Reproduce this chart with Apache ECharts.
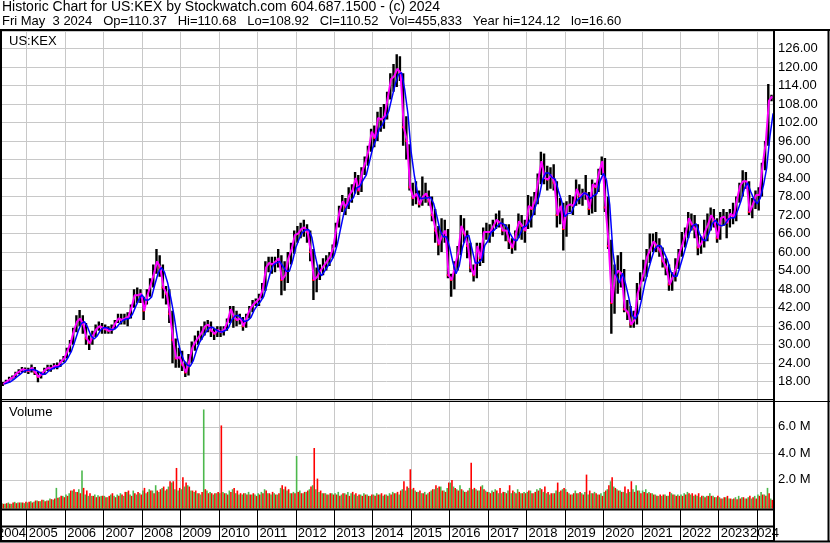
<!DOCTYPE html>
<html><head><meta charset="utf-8">
<script src="https://cdn.jsdelivr.net/npm/echarts/dist/echarts.min.js"></script>
<style>html,body{margin:0;padding:0;background:#fff}#c{width:830px;height:543px}</style>
</head><body><div id="c"></div><script>
// ---- data (monthly, first month = May 2004) ----
const startYear = 2004, startMonth = 5;
const close = [
 17.2,18.0,18.8,19.4,20.6,21.3,22.0,21.8,
 21.5,22.5,21.0,19.5,20.5,21.8,22.5,22.3,23.2,23.0,24.5,25.5,
 28.0,30.5,34.5,37.5,38.5,36.5,32.0,30.5,33.0,35.0,36.0,35.5,
 35.0,34.5,35.0,37.0,38.5,38.0,38.5,39.0,42.0,46.0,46.0,46.5,
 41.0,46.0,49.5,53.0,57.0,55.0,48.5,46.5,40.0,31.5,25.5,26.0,
 23.5,21.0,24.5,29.0,31.0,32.5,34.0,36.0,36.5,34.5,33.5,34.8,
 34.0,35.0,37.5,41.5,39.0,38.0,38.5,36.0,39.0,41.5,43.0,44.0,
 45.0,48.0,55.0,56.5,56.0,57.0,58.0,51.0,52.5,58.0,61.0,65.5,
 66.0,67.5,68.0,66.5,60.0,51.0,52.0,54.0,55.5,57.0,58.5,61.5,
 68.0,73.5,76.5,74.5,78.5,80.0,84.0,80.0,86.0,89.0,93.0,99.0,
 97.0,103.5,103.0,104.0,110.0,116.0,117.0,119.5,118.0,100.5,96.0,81.0,
 77.5,79.0,75.5,78.0,79.0,76.5,72.0,67.0,62.5,65.5,67.0,52.5,
 51.0,55.5,60.0,68.5,66.0,62.0,55.0,52.5,62.0,58.0,66.5,66.5,
 66.5,68.5,70.5,69.5,67.0,67.0,63.5,61.5,66.0,70.0,68.5,67.0,
 75.0,74.0,77.0,83.5,89.5,84.0,83.5,85.0,82.5,72.0,75.0,67.5,
 75.0,75.5,75.0,80.5,78.0,79.0,79.0,74.0,82.0,81.0,86.0,89.5,
 74.5,62.0,43.5,52.5,54.0,53.0,41.5,40.5,36.5,38.0,46.5,50.0,
 53.5,58.5,61.0,63.5,62.0,60.5,57.0,55.0,49.5,52.0,55.0,59.5,
 62.5,66.0,71.0,69.0,67.5,61.5,63.0,66.5,69.0,72.0,70.0,64.5,
 71.0,71.5,69.5,72.5,71.5,77.0,81.5,83.0,83.0,73.0,75.5,78.5,
 78.5,88.0,95.5,109.0,110.5
];
const high = [
 17.9,18.6,19.6,20.0,21.2,22.0,22.8,22.6,
 22.5,23.6,22.8,21.5,21.2,22.5,23.5,23.5,24.0,24.2,25.2,26.3,
 29.0,31.5,35.5,39.5,41.2,39.5,37.0,33.0,34.5,36.5,37.5,37.0,
 36.5,36.0,36.5,38.0,40.0,40.0,40.0,40.5,43.0,48.0,48.5,48.0,
 45.5,48.0,51.5,56.0,61.0,59.0,56.0,49.0,48.0,41.0,32.0,29.0,
 28.0,24.5,27.0,31.0,33.0,34.5,36.0,37.5,38.0,37.5,35.5,36.0,
 36.0,36.0,38.5,42.5,42.5,41.0,40.0,39.0,40.0,42.5,44.5,45.0,
 46.5,50.0,57.0,58.5,58.5,58.5,61.0,59.0,57.0,60.0,63.0,67.0,
 68.5,69.5,70.5,69.0,67.0,61.0,55.0,56.0,58.0,59.0,60.0,62.5,
 69.5,75.0,78.5,77.5,81.0,82.0,86.0,85.0,87.5,91.0,94.5,100.0,
 101.0,105.5,107.0,108.0,112.0,118.0,121.0,124.1,123.5,118.0,104.0,95.0,
 82.5,83.0,80.0,84.5,82.5,80.0,78.0,74.0,68.5,71.0,70.5,67.5,
 53.0,57.0,62.0,72.0,71.0,67.0,63.0,56.0,63.0,63.0,68.0,69.5,
 69.0,70.5,72.5,73.5,71.0,69.0,69.0,64.5,67.0,72.5,72.0,70.5,
 78.5,78.0,79.5,85.5,92.5,92.0,88.0,87.5,88.5,83.0,77.5,76.0,
 76.5,78.5,78.0,83.5,82.0,80.5,85.0,79.5,83.5,82.5,87.0,91.0,
 90.5,78.0,64.0,56.0,59.0,60.0,54.5,44.5,42.5,41.0,50.0,53.5,
 57.5,61.0,66.0,66.0,66.5,64.5,61.5,58.0,56.0,53.5,58.0,61.0,
 66.5,68.0,73.0,72.5,72.0,69.0,65.0,70.5,72.5,74.5,74.0,71.0,
 73.0,74.0,73.0,74.0,76.0,78.0,82.5,86.5,86.0,83.0,77.5,80.0,
 81.0,89.0,96.0,114.5,111.0
];
const low = [
 16.6,17.3,18.0,18.7,19.3,20.4,21.0,20.9,
 20.5,21.0,20.2,17.8,19.0,20.2,21.5,21.2,22.0,22.0,22.8,24.3,
 25.5,27.5,30.0,34.0,36.0,33.5,30.0,28.3,30.0,32.5,34.5,33.5,
 33.5,33.5,33.5,35.0,37.0,36.5,36.5,36.0,38.5,42.0,43.5,43.5,
 38.0,43.0,45.5,48.5,53.0,52.0,45.0,43.0,37.0,24.0,22.5,22.5,
 21.5,19.5,20.0,24.0,28.0,30.0,31.5,33.0,34.0,32.5,31.5,32.5,
 32.5,33.0,34.5,37.0,35.5,36.0,36.5,34.5,35.5,38.5,40.5,42.5,
 42.5,45.0,47.5,53.5,53.0,53.5,55.0,46.0,47.5,50.0,56.0,59.5,
 63.0,64.5,65.0,63.0,57.0,44.5,47.0,51.0,52.5,54.0,55.5,58.0,
 61.5,68.0,73.0,72.0,74.0,76.0,79.0,78.5,79.5,85.0,88.0,92.5,
 94.0,96.0,99.0,100.0,103.0,109.5,112.0,113.5,115.5,94.5,90.0,80.0,
 75.0,75.5,74.5,75.0,76.0,75.0,70.0,63.0,59.0,60.0,63.0,51.5,
 45.5,48.0,54.0,59.0,63.0,58.0,53.5,50.5,51.5,55.5,56.5,64.0,
 63.0,65.0,67.5,68.0,65.5,63.5,61.0,59.5,60.5,64.5,64.0,63.0,
 67.5,68.0,72.0,75.5,82.0,82.0,80.0,80.5,80.0,68.0,69.0,60.5,
 65.0,73.0,72.0,75.0,75.5,75.0,77.0,72.0,72.5,73.0,79.5,85.0,
 73.0,61.0,33.5,40.0,46.5,48.5,40.5,38.0,35.5,35.5,36.5,44.5,
 50.5,52.0,56.5,60.0,60.0,58.5,55.0,52.5,47.5,47.5,50.5,54.5,
 58.5,61.5,64.5,67.0,64.5,59.0,59.5,61.5,63.5,67.0,68.0,63.0,
 64.0,68.5,64.5,68.0,69.0,70.0,76.0,78.0,80.5,72.0,71.0,74.0,
 73.5,78.0,86.5,94.5,108.9
];
// volume in millions: up-day and down-day bars of each month
const volUp = [
 0.25,0.2,0.3,0.2,0.35,0.3,0.3,0.25,
 0.3,0.4,0.35,0.45,0.4,0.5,0.45,0.6,0.5,1.4,0.7,0.8,
 0.9,1.0,1.2,1.1,1.3,2.7,0.9,0.8,0.8,0.9,0.85,0.8,
 0.8,0.7,0.9,0.8,0.9,1.0,0.8,1.1,0.9,1.2,0.9,1.0,
 1.2,1.0,1.3,1.2,1.6,1.1,1.4,1.2,1.5,1.8,1.3,1.2,
 1.3,1.5,1.6,1.2,1.1,1.0,0.9,7.3,1.2,1.1,0.9,1.0,
 1.0,1.1,1.0,1.2,1.3,1.0,0.9,0.9,1.0,1.1,0.9,0.9,
 1.0,1.1,1.3,1.0,0.9,1.0,0.9,1.4,1.3,1.2,1.0,1.1,
 3.8,1.2,1.0,1.1,1.3,1.6,1.3,1.1,1.0,1.0,0.9,1.0,
 1.0,1.1,0.9,1.0,1.1,1.0,0.9,0.8,0.9,1.0,0.9,0.8,
 0.9,1.0,0.9,0.8,0.9,1.0,1.1,1.0,0.9,1.3,1.2,1.4,
 1.3,1.2,1.1,1.0,1.1,1.0,1.2,1.3,1.4,1.5,1.2,1.4,
 1.8,1.5,1.3,1.6,1.2,1.1,1.4,1.3,1.3,1.2,1.6,1.2,
 1.1,1.2,1.3,1.0,1.0,1.1,1.2,1.0,1.1,1.3,1.0,1.1,
 1.1,1.2,1.0,1.3,1.4,1.1,1.0,0.9,1.0,1.2,1.1,1.3,
 1.3,1.0,0.9,1.2,1.0,1.0,1.1,0.9,1.0,1.1,0.9,1.0,
 1.1,1.3,1.9,1.5,1.3,1.2,1.1,1.0,1.1,1.3,1.6,1.2,
 1.2,1.3,1.1,1.0,0.9,0.8,0.8,0.9,0.8,1.0,0.9,0.9,
 0.9,1.0,1.1,0.9,0.8,0.8,0.7,0.8,0.8,1.0,0.8,0.7,
 0.7,0.6,0.7,0.6,0.55,0.7,0.8,0.7,0.6,0.7,0.6,0.8,
 0.9,1.1,0.9,1.4,0.6
];
const volDown = [
 0.2,0.25,0.2,0.3,0.25,0.3,0.3,0.35,
 0.35,0.3,0.45,0.4,0.5,0.4,0.45,0.55,0.6,0.65,0.8,0.7,
 0.8,1.2,1.3,1.1,1.0,1.4,1.2,1.0,0.8,0.7,0.75,0.8,
 0.7,0.8,1.0,0.7,0.8,0.9,1.1,1.2,0.8,1.0,1.1,0.9,
 1.4,1.1,1.2,1.0,1.2,1.3,1.5,1.3,1.9,1.9,2.9,1.4,
 2.2,1.8,1.5,1.2,1.2,1.0,1.1,1.3,1.0,1.0,1.0,1.1,
 6.1,1.0,0.9,1.1,1.4,1.2,1.0,1.0,0.9,0.9,1.0,0.8,
 0.9,1.0,1.2,1.0,1.1,0.9,1.0,1.6,1.5,1.3,1.0,1.0,
 1.1,1.0,1.1,1.2,1.5,4.4,2.1,1.2,1.0,0.9,1.0,0.9,
 0.9,0.8,1.0,0.9,0.8,1.1,1.0,0.9,0.8,0.9,0.8,0.9,
 0.8,0.9,1.0,0.9,0.8,0.9,1.0,1.1,1.2,1.9,1.5,2.8,
 1.4,1.1,1.2,1.0,0.9,1.1,1.3,1.6,1.5,1.2,1.1,1.8,
 2.0,1.4,1.2,1.3,1.1,1.2,3.3,1.4,1.2,1.5,1.3,1.1,
 1.0,1.1,1.2,1.4,1.1,1.0,1.6,1.2,1.0,1.1,1.0,1.0,
 1.2,1.0,1.1,1.2,1.3,1.5,1.1,1.0,1.0,1.8,1.2,1.4,
 1.1,0.9,1.0,1.0,1.1,0.9,2.4,1.2,1.0,1.0,0.9,0.8,
 1.2,1.6,2.2,1.4,1.2,1.1,1.5,1.3,1.9,1.1,1.2,1.0,
 1.1,1.0,1.0,0.9,0.8,0.9,0.9,0.8,1.1,0.9,0.8,0.8,
 0.8,0.9,1.0,1.0,0.9,1.0,0.8,0.7,0.8,0.8,0.7,0.8,
 0.6,0.7,0.8,0.6,0.6,0.55,0.6,0.7,0.6,0.8,0.7,0.6,
 0.8,0.9,0.8,1.0,0.5
];
const priceTicks = {min: 12, max: 131.67, interval: 6};
const volTicks = {min: 0, max: 7.9, interval: 2};
const yearRange = {min: 2004, max: 2024.44};
const title1 = 'Historic Chart for US:KEX by Stockwatch.com 604.687.1500 - (c) 2024';
const title2 = 'Fri May  3 2024   Op=110.37   Hi=110.68   Lo=108.92   Cl=110.52   Vol=455,833   Year hi=124.12   lo=16.60';
const symbolLabel = 'US:KEX';

// ---- build ----
const FONT = 'Liberation Sans';
const mStart = close.map((_, i) => startYear + (startMonth - 1 + i) / 12);
const M = 1 / 12;
const barData = close.map((c, i) => [mStart[i] + M / 2, high[i], low[i], c, i > 0 ? close[i - 1] : c]);
const closeLine = close.map((c, i) => [mStart[i] + M * 0.7, c]);
const maLine = close.map((c, i) => {
  const s = close.slice(Math.max(0, i - 2), i + 1);
  return [mStart[i] + M, s.reduce((a, b) => a + b, 0) / s.length];
});
const volData = close.map((_, i) => [mStart[i], volUp[i], volDown[i]]);

const GL = -11.7, GR = 56;
const grids = [
  {left: GL, right: GR, top: 31, height: 369.2, outerBoundsMode: 'none'},
  {left: GL, right: GR, top: 401.5, height: 105, outerBoundsMode: 'none'},
  {left: GL, right: GR, top: 509, height: 32, outerBoundsMode: 'none'}
];
function xAx(i, extra) {
  return Object.assign({
    gridIndex: i, type: 'value', min: yearRange.min, max: yearRange.max, interval: 1,
    axisLine: {show: false}, axisTick: {show: false}, axisLabel: {show: false},
    splitLine: {show: true, lineStyle: {color: '#c8c8c8', width: 1}}
  }, extra || {});
}
function txt(text, x, y, va, size) {
  return {type: 'text', x: x, y: y, z: 100,
    style: {text: text, fontSize: size || 13, fontFamily: FONT, fill: '#000', align: 'left', verticalAlign: va || 'top'}};
}
function ln(x1, y1, x2, y2, w) {
  return {type: 'line', z: 90, shape: {x1: x1, y1: y1, x2: x2, y2: y2}, style: {stroke: '#000', lineWidth: w}};
}
const option = {
  animation: false,
  backgroundColor: '#fff',
  grid: grids,
  xAxis: [
    xAx(0), xAx(1),
    xAx(2, {
      position: 'bottom',
      axisLine: {show: true, lineStyle: {color: '#000', width: 2}},
      splitLine: {show: true, lineStyle: {color: '#000', width: 1}},
      axisLabel: {show: true, inside: true, align: 'left', verticalAlign: 'bottom', margin: 1,
        padding: [0, 0, 0, 2], fontSize: 13, fontFamily: FONT, color: '#000',
        showMinLabel: false, showMaxLabel: false,
        formatter: v => (v > 2023.5 ? '' : String(Math.round(v)))}
    })
  ],
  yAxis: [
    {gridIndex: 0, type: 'value', position: 'right', min: priceTicks.min, max: priceTicks.max, interval: priceTicks.interval,
      axisLine: {show: true, lineStyle: {color: '#000', width: 2}}, axisTick: {show: false},
      axisLabel: {fontSize: 13, fontFamily: FONT, color: '#000', margin: 4, showMinLabel: false, showMaxLabel: false,
        formatter: v => v.toFixed(2)},
      splitLine: {show: true, lineStyle: {color: '#c8c8c8', width: 1}}},
    {gridIndex: 1, type: 'value', position: 'right', min: volTicks.min, max: volTicks.max, interval: volTicks.interval,
      axisLine: {show: true, lineStyle: {color: '#000', width: 2}}, axisTick: {show: false},
      axisLabel: {fontSize: 13, fontFamily: FONT, color: '#000', margin: 4, showMinLabel: false, showMaxLabel: false,
        formatter: v => v.toFixed(1) + ' M'},
      splitLine: {show: true, lineStyle: {color: '#c8c8c8', width: 1}}},
    {gridIndex: 2, type: 'value', show: false}
  ],
  series: [
    {type: 'custom', xAxisIndex: 0, yAxisIndex: 0, data: barData, clip: true,
      renderItem: function (params, api) {
        const x = api.value(0);
        const pH = api.coord([x, api.value(1)]), pL = api.coord([x, api.value(2)]), pC = api.coord([x, api.value(3)]);
        const ch = [{type: 'rect', shape: {x: pH[0] - 1.2, y: pH[1], width: 2.4, height: Math.max(1, pL[1] - pH[1])}, style: {fill: '#000'}}];
        if (api.value(3) < api.value(4)) ch.push({type: 'rect', shape: {x: pC[0] - 1.2, y: pC[1] - 1, width: 2.4, height: 2}, style: {fill: '#ff0000'}});
        return {type: 'group', children: ch};
      }},
    {type: 'line', xAxisIndex: 0, yAxisIndex: 0, data: closeLine, symbol: 'none', lineStyle: {color: '#ff00ff', width: 2}, z: 3},
    {type: 'line', xAxisIndex: 0, yAxisIndex: 0, data: maLine, symbol: 'none', lineStyle: {color: '#0000ff', width: 1.5}, z: 4},
    {type: 'custom', xAxisIndex: 1, yAxisIndex: 1, data: volData,
      renderItem: function (params, api) {
        const x = api.value(0);
        const base = params.coordSys.y + params.coordSys.height + 2;
        const g = api.coord([x + M * 0.25, api.value(1)]), r = api.coord([x + M * 0.75, api.value(2)]);
        return {type: 'group', children: [
          {type: 'rect', shape: {x: g[0] - 0.8, y: g[1], width: 1.6, height: base - g[1]}, style: {fill: '#4cb84c'}},
          {type: 'rect', shape: {x: r[0] - 0.8, y: r[1], width: 1.6, height: base - r[1]}, style: {fill: '#ff0000'}}
        ]};
      }}
  ],
  graphic: [
    txt(title1, 2, 0, 'top', 14), txt(title2, 2, 15), txt(symbolLabel, 9, 35), txt('Volume', 9, 406),
    txt('2004', -3, 540, 'bottom'), txt('2024', 750, 540, 'bottom'),
    ln(0, 30, 830, 30, 2), ln(1, 30, 1, 542, 2), ln(774, 30, 774, 542, 2), ln(828.5, 30, 828.5, 542, 2),
    ln(0, 541.5, 830, 541.5, 2), ln(0, 399.5, 774, 399.5, 1), ln(0, 401.5, 830, 401.5, 1),
    ln(0, 509.5, 774, 509.5, 2), ln(0, 526.5, 774, 526.5, 2)
  ]
};
const chart = echarts.init(document.getElementById('c'), null, {renderer: 'canvas'});
chart.setOption(option);
</script></body></html>
